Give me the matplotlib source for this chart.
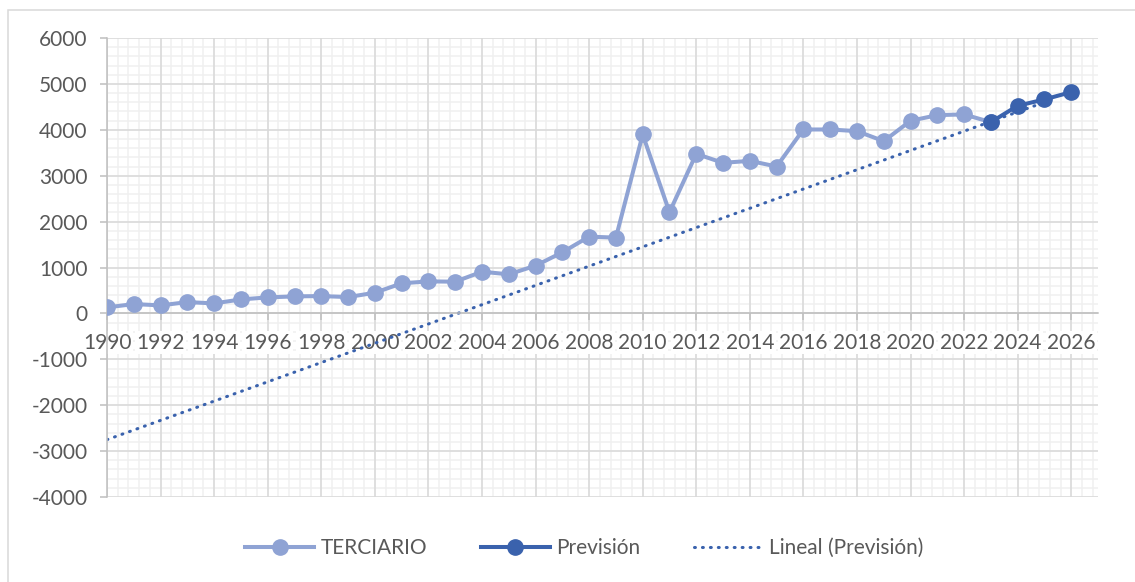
import numpy as np
import matplotlib
matplotlib.use("Agg")
import matplotlib.pyplot as plt
from matplotlib.patches import Rectangle
from matplotlib.ticker import MultipleLocator

# datos del sector terciario y su previsión
years_real = list(range(1990, 2024))
terciario = [131, 204, 175, 247, 218, 305, 349, 371, 378, 356,
             451, 655, 698, 691, 909, 851, 1040, 1331, 1673, 1651,
             3898, 2204, 3476, 3280, 3324, 3200, 4007, 4007, 3971, 3753,
             4196, 4320, 4335, 4167]

years_prev = [2023, 2024, 2025, 2026]
prevision = [4167, 4524, 4662, 4822]

# extremos de la línea de tendencia lineal
trend_years = [1990, 2025]
trend_vals = [-2750, 4600]

c_light = "#8FA3D4"
c_dark = "#3A62AD"
c_text = "#595959"

plt.rcParams['font.family'] = ['Lato', 'DejaVu Sans']
plt.rcParams['axes.unicode_minus'] = False

fig = plt.figure(figsize=(11.35, 5.82), dpi=100)
ax = fig.add_axes([0.0943, 0.146, 0.8731, 0.7887])

x0, x1 = 1990, 2027
y0, y1 = -4000, 6000

# rejilla a mano, para que las etiquetas del eje queden por encima
ax.vlines(np.arange(x0, x1 + 0.01, 0.4), y0, y1, color='#F0F0F0', lw=1.1, zorder=0.1)
ax.hlines(np.arange(y0, y1 + 1, 200), x0, x1, color='#F0F0F0', lw=1.1, zorder=0.1)
ax.vlines(np.arange(x0, x1 + 0.01, 2), y0, y1, color='#D9D9D9', lw=1.1, zorder=0.2)
ax.hlines(np.arange(y0, y1 + 1, 1000), x0, x1, color='#D9D9D9', lw=1.1, zorder=0.2)

ax.plot(trend_years, trend_vals, color=c_dark, lw=2.2, linestyle=(0, (0.3, 2.3)),
        dash_capstyle='round', zorder=2, label="Lineal (Previsión)")
ax.plot(years_real, terciario, color=c_light, lw=2.9, marker='o', markersize=11,
        zorder=3, label="TERCIARIO")
ax.plot(years_prev, prevision, color=c_dark, lw=2.9, marker='o', markersize=11,
        zorder=4, label="Previsión")

ax.set_xlim(x0, x1)
ax.set_ylim(y0, y1)
ax.xaxis.set_major_locator(MultipleLocator(2))
ax.yaxis.set_major_locator(MultipleLocator(1000))
ax.set_axisbelow(True)

for s in ['top', 'right']:
    ax.spines[s].set_visible(False)
ax.spines['bottom'].set_position(('data', 0))
ax.spines['bottom'].set_color('#BFBFBF')
ax.spines['left'].set_color('#BFBFBF')
ax.spines['bottom'].set_linewidth(1.1)
ax.spines['left'].set_linewidth(1.1)

ax.tick_params(which='major', length=5, color='#BFBFBF', labelsize=15,
               labelcolor=c_text, width=1.1)
ax.tick_params(axis='x', pad=9)
ax.tick_params(axis='y', pad=9)
ax.set_xticks(range(1990, 2027, 2))
for lbl in ax.get_xticklabels():
    lbl.set_bbox(dict(facecolor='white', edgecolor='none', pad=1))

leg = fig.legend(handles=[ax.lines[1], ax.lines[2], ax.lines[0]],
                 loc='center', bbox_to_anchor=(0.515, 0.058), ncol=3,
                 frameon=False, fontsize=15, handlelength=3.3,
                 columnspacing=2.6, handletextpad=0.3)
for t in leg.get_texts():
    t.set_color(c_text)

# marco exterior del gráfico
fig.patches.append(Rectangle((8 / 1135, -0.1), 1.2, (582 - 10) / 582 + 0.1,
                             transform=fig.transFigure, fill=False,
                             edgecolor='#D9D9D9', lw=1.1))

fig.savefig("out.png", dpi=100)
